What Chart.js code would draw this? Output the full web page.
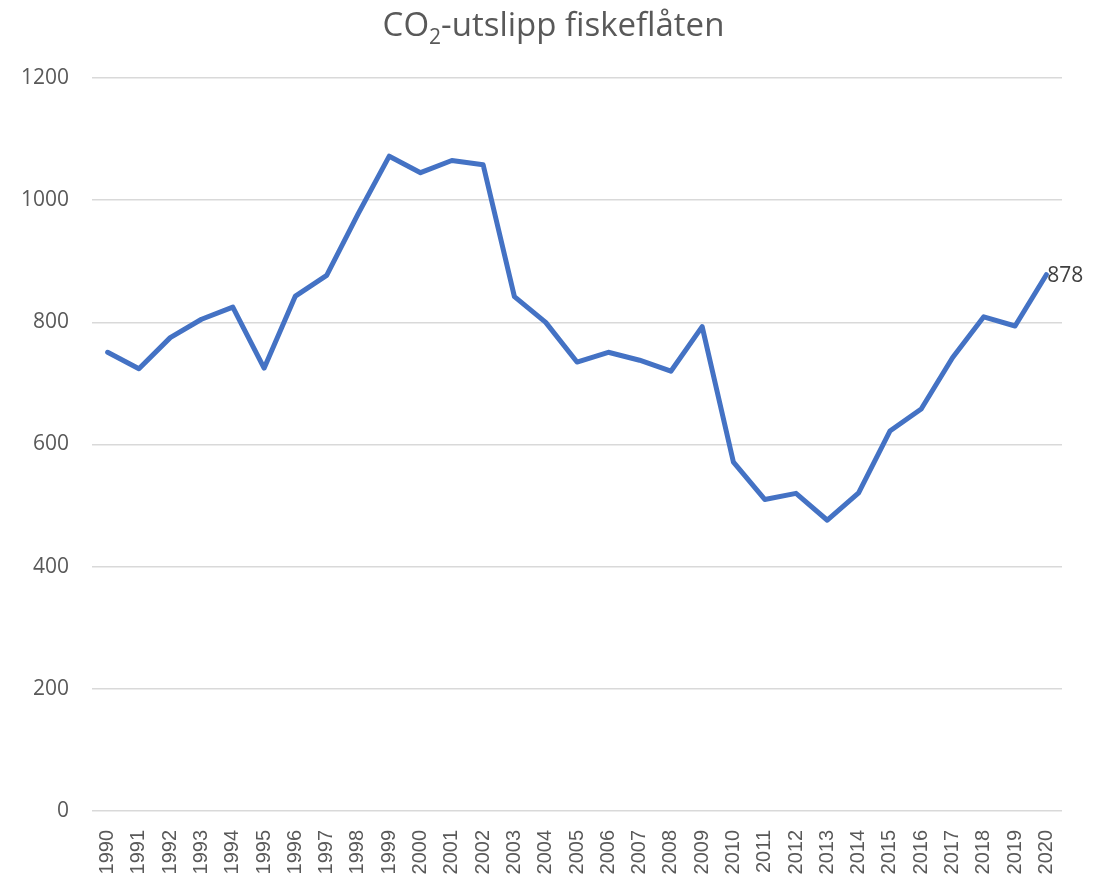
<!DOCTYPE html>
<html>
<head>
<meta charset="utf-8">
<script src="https://cdn.jsdelivr.net/npm/chart.js@4/dist/chart.umd.min.js"></script>
<style>
  body { margin: 0; background: #fff; }
  #wrap { position: relative; width: 1107px; height: 876px; }
  #title { position: absolute; top: 1px; left: 0; width: 1107px; text-align: center;
    font-family: "Open Sans", sans-serif; font-size: 33px; color: #595959; font-weight: 400; }
  #title sub { font-size: 21px; vertical-align: -8px; line-height: 0; }
</style>
</head>
<body>
<div id="wrap">
  <canvas id="lineChart" width="1107" height="876"></canvas>
  <div id="title">CO<sub>2</sub>-utslipp fiskeflåten</div>
</div>
<script>
const years = ['1990','1991','1992','1993','1994','1995','1996','1997','1998','1999','2000',
  '2001','2002','2003','2004','2005','2006','2007','2008','2009','2010',
  '2011','2012','2013','2014','2015','2016','2017','2018','2019','2020'];
const utslipp = [751,724,775,805,825,725,843,877,977,1072,1045,
  1065,1058,842,800,735,751,738,720,793,571,
  510,520,476,521,622,658,742,809,794,878];
const yTicks = [0,200,400,600,800,1000,1200];

// label på siste punkt
const lastLabel = {
  id: 'lastLabel',
  afterDatasetsDraw(chart) {
    const meta = chart.getDatasetMeta(0);
    const pt = meta.data[meta.data.length - 1];
    const c = chart.ctx;
    c.save();
    c.font = '21px "Open Sans", sans-serif';
    c.fillStyle = '#404040';
    c.textAlign = 'left';
    c.textBaseline = 'middle';
    c.fillText(String(utslipp[utslipp.length - 1]), pt.x + 1, pt.y + 1);
    c.restore();
  }
};

const ctx = document.getElementById('lineChart');
new Chart(ctx, {
  type: 'line',
  data: { labels: years, datasets: [{ data: utslipp, borderColor: '#4472C4', borderWidth: 5,
    pointRadius: 0, tension: 0, fill: false, borderJoinStyle: 'round', borderCapStyle: 'round' }] },
  options: {
    responsive: false, animation: false,
    layout: { padding: { top: 78, right: 45, left: 0, bottom: 0 } },
    plugins: { legend: { display: false }, tooltip: { enabled: false } },
    scales: {
      x: {
        offset: true,
        grid: { display: false },
        border: { display: false },
        ticks: { minRotation: 90, maxRotation: 90, autoSkip: false, padding: 11,
          color: '#595959', font: { family: 'Liberation Sans', size: 20 } },
        afterFit(s) { s.height = 65; }
      },
      y: {
        min: 0, max: 1200,
        afterBuildTicks(s) { s.ticks = yTicks.map(v => ({ value: v })); },
        grid: { color: '#d9d9d9', lineWidth: 1.5, drawTicks: false },
        border: { display: false },
        ticks: { padding: 23, color: '#595959', font: { family: 'Open Sans', size: 21 },
          callback: v => String(v) },
        afterFit(s) { s.width = 92; }
      }
    }
  },
  plugins: [lastLabel]
});
</script>
</body>
</html>
